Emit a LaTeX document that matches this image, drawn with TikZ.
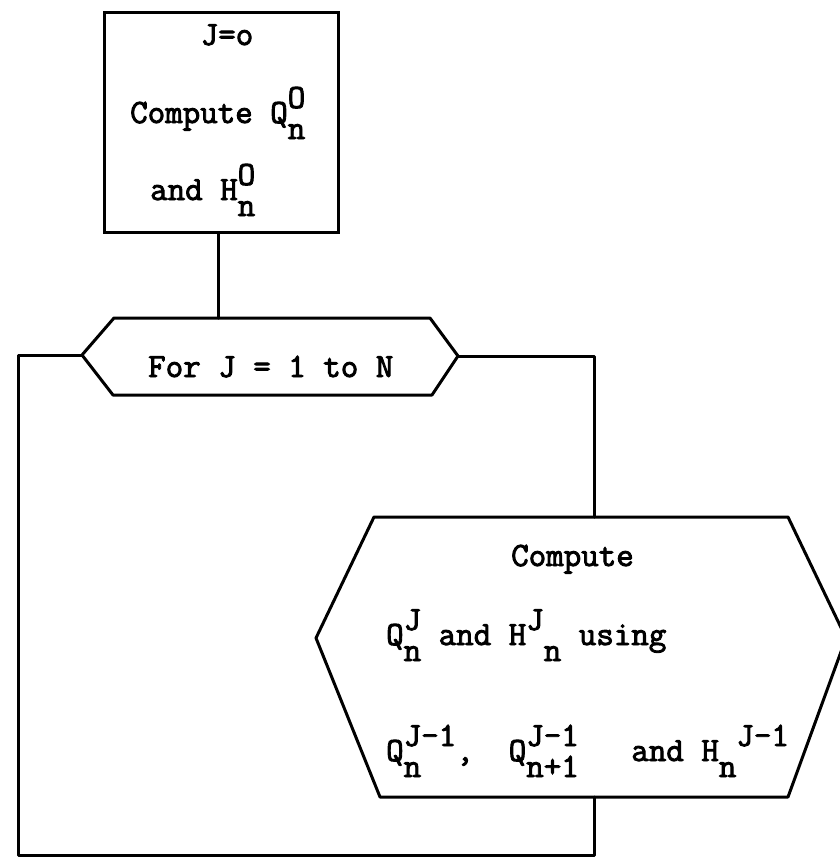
\documentclass[tikz,border=0pt]{standalone}
\usepackage{fontspec}
\newcommand{\upc}[1]{\raisebox{15pt}{#1}}
\newcommand{\dnc}[1]{\raisebox{-16pt}{#1}}
\newcommand{\stk}[2]{\setbox0\hbox{#1}\setbox2\hbox{#2}\rlap{\raisebox{15pt}{#1}}\rlap{\raisebox{-16pt}{#2}}\ifdim\wd0>\wd2 \hskip\wd0\relax\else\hskip\wd2\relax\fi}
\tikzset{
  lbl/.style={font=\ttfamily\fontsize{34}{40}\selectfont, inner sep=0pt, anchor=base west,
    execute at begin node={\special{pdf:literal direct 2 Tr 0.9 w}}},
  ln/.style={line width=3pt, line join=round, line cap=round},
  boxnode/.style={draw, line width=3pt, rectangle, inner sep=0pt, minimum width=234pt, minimum height=220pt}
}
\begin{document}
\begin{tikzpicture}[x=1pt,y=-1pt]
\useasboundingbox (0,0) rectangle (840,860);
% top box
\node[boxnode] (init) at (221,122) {};
\node[lbl, anchor=base] (j0) at (227,45) {J=o};
\node[lbl] (c0) at (130,123) {Compute Q\stk{O}{n}};
\node[lbl] (h0) at (150,200) {and H\stk{O}{n}};
% For hexagon
\coordinate (fl) at (82,355);
\coordinate (ftl) at (114,318);
\coordinate (ftop) at (218,318);
\coordinate (ftr) at (430,318);
\coordinate (fr) at (458,356);
\coordinate (fbr) at (432,395);
\coordinate (fbl) at (113,395);
\draw[ln] (fl) -- (ftl) -- (ftr) -- (fr) -- (fbr) -- (fbl) -- cycle;
\node[lbl] (forlbl) at (148,377) {For J = 1 to N};
% big hexagon
\coordinate (bl) at (316,638);
\coordinate (btl) at (374,517);
\coordinate (btop) at (594,517);
\coordinate (btr) at (788,517);
\coordinate (br) at (846,638);
\coordinate (bbr) at (788,797);
\coordinate (bbot) at (594,797);
\coordinate (bbl) at (380,797);
\draw[ln] (bl) -- (btl) -- (btr) -- (br) -- (bbr) -- (bbl) -- cycle;
\node[lbl] (cmp) at (511,566) {Compute};
\node[lbl] (l2) at (386,645) {Q\stk{J}{n} and H\upc{J}\dnc{n} using};
\node[lbl] (l3) at (386,761) {Q\stk{J-1}{n},~~Q\stk{J-1}{n+1}~~~and H\dnc{n}\upc{J-1}};
% connectors
\coordinate (loopbl) at (18,855);
\draw[ln] (ftop |- init.south) -- (ftop);
\draw[ln] (fr) -| (btop);
\draw[ln] (bbot) |- (loopbl) |- (fl);
\end{tikzpicture}
\end{document}
